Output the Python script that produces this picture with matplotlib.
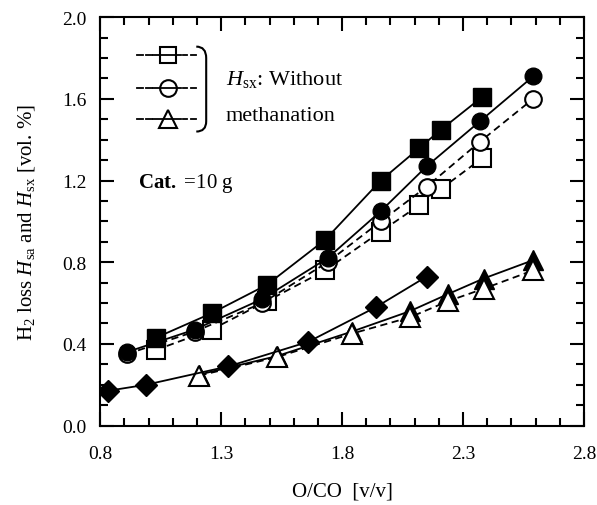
import matplotlib
matplotlib.use("Agg")
import matplotlib.pyplot as plt
from matplotlib.path import Path
from matplotlib.patches import PathPatch
from matplotlib.ticker import MultipleLocator, FixedLocator

plt.rcParams["font.family"] = "Liberation Serif"
plt.rcParams["mathtext.fontset"] = "custom"
plt.rcParams["mathtext.rm"] = "Liberation Serif"
plt.rcParams["mathtext.it"] = "Liberation Serif:italic"
plt.rcParams["mathtext.bf"] = "Liberation Serif:bold"

# H_sa (with methanation, filled) and H_sx (without, open) vs O/CO
sq_x = [1.03, 1.26, 1.49, 1.73, 1.96, 2.12, 2.21, 2.38]
sq_fill = [0.43, 0.55, 0.69, 0.91, 1.20, 1.36, 1.45, 1.61]
sq_open = [0.37, 0.47, 0.61, 0.76, 0.95, 1.08, 1.16, 1.31]

ci_x = [0.91, 1.19, 1.47, 1.74, 1.96, 2.15, 2.37, 2.59]
ci_fill = [0.36, 0.47, 0.62, 0.82, 1.05, 1.27, 1.49, 1.71]
ci_open = [0.35, 0.46, 0.60, 0.80, 1.00, 1.17, 1.39, 1.60]

tr_x = [1.21, 1.53, 1.84, 2.08, 2.24, 2.385, 2.59]
tr_fill = [0.25, 0.34, 0.46, 0.56, 0.645, 0.72, 0.81]
tr_open = [0.245, 0.335, 0.45, 0.53, 0.61, 0.67, 0.76]

di_x = [0.83, 0.99, 1.33, 1.66, 1.94, 2.15]
di_fill = [0.17, 0.20, 0.29, 0.41, 0.58, 0.73]

x_ticks = [0.8, 1.3, 1.8, 2.3, 2.8]

fig = plt.figure(figsize=(5.97, 5.06), dpi=100)
ax = fig.add_axes([0.168, 0.157, 0.81, 0.807])

dash = dict(color="black", lw=1.3, ls=(0, (4, 2.5)))
solid = dict(color="black", lw=1.3, ls="-")
openm = dict(mfc="white", mec="black", mew=1.5)
fillm = dict(mfc="black", mec="black", mew=1.0)

ax.plot(tr_x, tr_fill, marker="^", ms=14, **solid, **fillm, zorder=2)
ax.plot(sq_x, sq_open, marker="s", ms=13, **dash, **openm, zorder=3)
ax.plot(ci_x, ci_open, marker="o", ms=12, **dash, **openm, zorder=3)
ax.plot(tr_x, tr_open, marker="^", ms=14, **dash, **openm, zorder=3)

ax.plot(ci_x, ci_fill, marker="o", ms=12, **solid, **fillm, zorder=4)
ax.plot(sq_x, sq_fill, marker="s", ms=13, **solid, **fillm, zorder=4)
ax.plot(di_x, di_fill, marker="D", ms=11, **solid, **fillm, zorder=4)

ax.set_xlim(0.8, 2.8)
ax.set_ylim(0.0, 2.0)
ax.xaxis.set_major_locator(FixedLocator(x_ticks))
ax.xaxis.set_minor_locator(MultipleLocator(0.1))
ax.yaxis.set_major_locator(MultipleLocator(0.4))
ax.yaxis.set_minor_locator(MultipleLocator(0.1))
ax.xaxis.set_major_formatter(plt.FormatStrFormatter("%.1f"))
ax.yaxis.set_major_formatter(plt.FormatStrFormatter("%.1f"))
ax.tick_params(which="both", direction="in", top=True, right=True,
               labelsize=14, width=1.5)
ax.tick_params(which="major", length=10)
ax.tick_params(which="minor", length=6)
ax.tick_params(axis="x", pad=14)
ax.tick_params(axis="y", pad=10)
for s in ax.spines.values():
    s.set_linewidth(1.5)

ax.set_xlabel("O/CO  [v/v]", fontsize=15, labelpad=14)
ax.set_ylabel(r"H$_2$ loss $H_\mathrm{sa}$ and $H_\mathrm{sx}$ [vol. %]",
              fontsize=15, labelpad=18)

# hand-drawn legend in the upper left
for y, m in [(1.817, "s"), (1.655, "o"), (1.50, "^")]:
    ax.plot([1.02, 1.135], [y, y], color="black", lw=1.3)
    for x0, x1 in [(0.95, 0.975), (0.99, 1.012), (1.14, 1.16), (1.177, 1.197)]:
        ax.plot([x0, x1], [y, y], color="black", lw=1.3)
    ax.plot([1.078], [y], marker=m, ms=12 if m != "^" else 13,
            mfc="none", mec="black", mew=1.5)

brace = Path([(1.197, 1.856), (1.238, 1.856), (1.238, 1.80),
              (1.238, 1.49),
              (1.238, 1.44), (1.197, 1.44)],
             [Path.MOVETO, Path.CURVE3, Path.CURVE3,
              Path.LINETO, Path.CURVE3, Path.CURVE3])
ax.add_patch(PathPatch(brace, fill=False, lw=1.5, ec="black"))

ax.text(1.32, 1.70, r"$H_\mathrm{sx}$: Without", fontsize=16, va="center")
ax.text(1.32, 1.52, "methanation", fontsize=16, va="center")
ax.text(0.955, 1.19, r"$\mathbf{Cat.}$ =10 g", fontsize=15, va="center")

fig.savefig("out.png", dpi=100)
